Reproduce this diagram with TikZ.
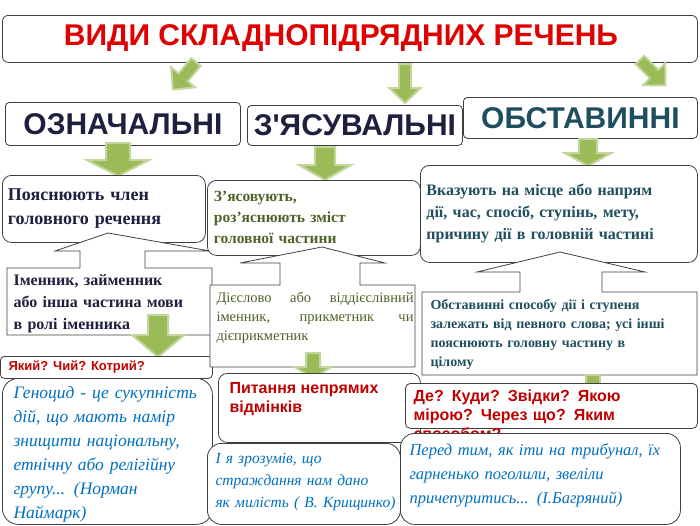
\documentclass[tikz,border=0pt]{standalone}
\usepackage{fontspec}
\setmainfont{Liberation Serif}
\newfontfamily\sansf{Liberation Sans}
\definecolor{gfill}{HTML}{9BBB59}
\definecolor{gedge}{HTML}{C3D69B}
\definecolor{ttl}{HTML}{E00000}
\definecolor{navy}{HTML}{1F1F3F}
\definecolor{teal}{HTML}{1F4E5F}
\definecolor{olive}{HTML}{4F6228}
\definecolor{qblue}{HTML}{0070C0}
\definecolor{qred}{HTML}{C00000}
\newcommand\gArrow[5]{% x, ytop, yneck, ytip, shaft half
 \fill[gfill,draw=gedge,line width=2pt] (#1-#5,#2) -- (#1+#5,#2) -- (#1+#5,#3) -- (#1+2.6*#5,#3) -- (#1,#4) -- (#1-2.6*#5,#3) -- (#1-#5,#3) -- cycle;}
\begin{document}
\begin{tikzpicture}[x=1pt,y=-1pt,
 rbox/.style={draw=black!75,fill=white,rounded corners=9pt,line width=0.8pt,anchor=north west,inner sep=5pt},
 cat/.style={rbox,rounded corners=4pt,font=\sansf\bfseries\fontsize{30}{32}\selectfont,align=center,inner sep=0pt},
 body/.style={font=\bfseries\fontsize{17}{22}\selectfont,align=left},
 quote/.style={font=\itshape\fontsize{17.5}{24}\selectfont,text=qblue,align=left},
 qst/.style={font=\sansf\bfseries\fontsize{16}{19}\selectfont,text=qred,align=left},
 callout/.style={draw=black!75,fill=white,line width=0.8pt}]
\useasboundingbox (0,0) rectangle (700,525);
% title
\node[rbox,rounded corners=6pt,minimum width=695pt,minimum height=47pt,inner sep=0pt] (title) at (2,15) {};
\node[font=\sansf\bfseries\fontsize{30}{32}\selectfont,text=ttl] (ttext) at (341,38) {ВИДИ СКЛАДНОПІДРЯДНИХ РЕЧЕНЬ};
% arrows from title
\begin{scope}[shift={(196,62)},rotate=-40]\gArrow{0}{0}{20}{36}{6}\end{scope}
\gArrow{405}{64}{88}{103}{6}
\begin{scope}[shift={(640,60)},rotate=45]\gArrow{0}{0}{20}{36}{6}\end{scope}
% categories
\node[cat,minimum width=235pt,minimum height=43pt,text=navy] (c1) at (5,102) {ОЗНАЧАЛЬНІ};
\node[cat,minimum width=215pt,minimum height=40pt,text=navy] (c2) at (247,105) {З'ЯСУВАЛЬНІ};
\node[cat,minimum width=234pt,minimum height=41pt,text=teal] (c3) at (463,97) {ОБСТАВИННІ};
\gArrow{118}{143}{160}{176}{12}
\gArrow{325}{147}{165}{180}{10}
\gArrow{588}{139}{153}{166}{9}
% column 1
\node[rbox,body,font=\bfseries\fontsize{18}{24}\selectfont,text=navy,minimum width=203pt,minimum height=67pt,text width=192pt] (d1) at (2,175) {Пояснюють член\\головного речення};
\draw[callout] (7,268) -- (80,268) -- (80,251) -- (55,251) -- (108,233) -- (210,251) -- (145,251) -- (145,268) -- (212,268) -- (212,335) -- (7,335) -- cycle;
\node[body,text=navy,anchor=north west,text width=200pt,font=\bfseries\fontsize{16}{22}\selectfont] (e1) at (10,271) {Іменник, займенник\\або інша частина мови\\в ролі іменника};
\gArrow{158}{315}{335}{357}{10}
\node[rbox,rounded corners=4pt,minimum width=212pt,minimum height=22pt,inner sep=0pt] (q1) at (0,356) {};
\node[qst,font=\sansf\bfseries\fontsize{13}{15}\selectfont,anchor=west] (q1t) at (5,367) {Який? Чий? Котрий?};
% column 2
\node[rbox,body,font=\bfseries\fontsize{15.5}{21}\selectfont,text=olive,minimum width=213pt,minimum height=75pt,text width=200pt] (d2) at (207,180) {З'ясовують,\\роз'яснюють зміст\\головної частини};
\draw[callout] (210,285) -- (280,285) -- (280,263) -- (240,263) -- (322,247) -- (385,263) -- (360,263) -- (360,285) -- (415,285) -- (415,367) -- (210,367) -- cycle;
\node[anchor=north west,text width=197pt,align=justify,text=olive,font=\fontsize{14.5}{19}\selectfont] (e2) at (213,289) {Дієслово або віддієслівний іменник, прикметник чи дієприкметник};
\gArrow{313}{353}{367}{378}{7}
\node[rbox,minimum width=202pt,minimum height=69pt] (q2) at (218,373) {};
\node[qst,anchor=north west] (q2t) at (226,379) {Питання непрямих\\відмінків};
% column 3
\node[rbox,body,font=\bfseries\fontsize{16}{22}\selectfont,text=teal,minimum width=277pt,minimum height=97pt,text width=265pt] (d3) at (420,165) {Вказують на місце або напрям\\дії, час, спосіб, ступінь, мету,\\причину дії в головній частині};
\draw[callout] (422,292) -- (520,292) -- (520,272) -- (477,272) -- (560,252) -- (645,272) -- (602,272) -- (602,292) -- (697,292) -- (697,375) -- (422,375) -- cycle;
\node[anchor=north west,text width=268pt,text=teal,font=\bfseries\fontsize{14}{19}\selectfont,align=left] (e3) at (427,296) {Обставинні способу дії і ступеня\\залежать від певного слова; усі інші\\пояснюють головну частину в\\цілому};
\fill[gfill,draw=gedge,line width=2pt] (586,375) rectangle (600,385);
\node[rbox,rounded corners=5pt,minimum width=292pt,minimum height=45pt] (q3) at (405,383) {};
\node[qst,anchor=north west,text width=270pt] (q3t) at (410,386) {Де? Куди? Звідки? Якою\\мірою? Через що? Яким\\способом?};
% quotes
\node[rbox,rounded corners=16pt,minimum width=210pt,minimum height=146pt,inner sep=0pt] (g1) at (2,378) {};
\node[quote,anchor=north west,text width=200pt] (g1t) at (10,383) {Геноцид - це сукупність\\дій, що мають намір\\знищити національну,\\етнічну або релігійну\\групу... (Норман\\Наймарк)};
\node[rbox,rounded corners=14pt,minimum width=193pt,minimum height=81pt,inner sep=0pt] (g2) at (207,443) {};
\node[quote,font=\itshape\fontsize{15.5}{22}\selectfont,anchor=north west,text width=200pt] (g2t) at (212,450) {І я зрозумів, що\\страждання нам дано\\як милість ( В. Крищинко)};
\node[rbox,rounded corners=14pt,minimum width=280pt,minimum height=91pt,inner sep=0pt] (g3) at (400,433) {};
\node[quote,font=\itshape\fontsize{16.5}{24}\selectfont,anchor=north west,text width=275pt] (g3t) at (406,440) {Перед тим, як іти на трибунал, їх\\гарненько поголили, звеліли\\причепуритись... (І.Багряний)};
\end{tikzpicture}
\end{document}
